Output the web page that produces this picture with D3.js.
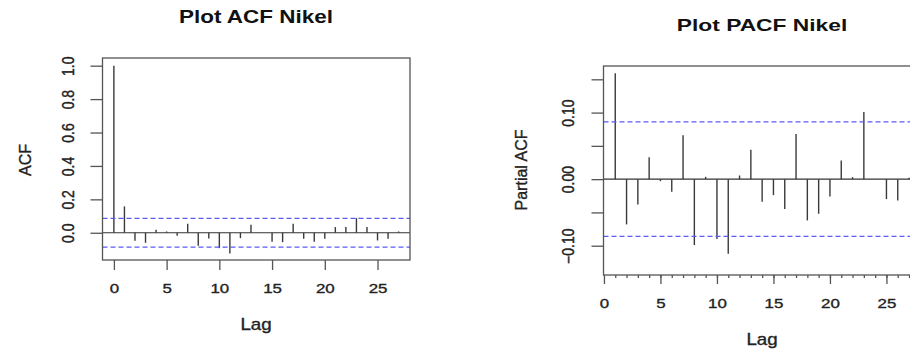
<!DOCTYPE html>
<html>
<head>
<meta charset="utf-8">
<script src="https://cdn.jsdelivr.net/npm/d3@7"></script>
<style>
  html, body { margin: 0; padding: 0; background: #fff; }
  svg text { font-family: "Liberation Sans", Arial, sans-serif; fill: #222; stroke: #222; stroke-width: 0.35px; }
</style>
</head>
<body>
<div id="chart"></div>
<script>
// lags and correlation values
var acfLags = [0, 1, 2, 3, 4, 5, 6, 7, 8, 9, 10, 11, 12, 13, 14, 15, 16, 17, 18, 19, 20, 21, 22, 23, 24, 25, 26, 27];
var acfValues = [1.0, 0.158, -0.048, -0.060, 0.018, 0.008, -0.018, 0.054, -0.078, -0.034, -0.092, -0.124, -0.032, 0.048, 0.000,
                 -0.054, -0.056, 0.054, -0.036, -0.054, -0.036, 0.034, 0.034, 0.088, 0.034, -0.046, -0.036, 0.008];

var pacfLags = [1, 2, 3, 4, 5, 6, 7, 8, 9, 10, 11, 12, 13, 14, 15, 16, 17, 18, 19, 20, 21, 22, 23, 24, 25, 26, 27];
var pacfValues = [0.159, -0.068, -0.038, 0.033, -0.003, -0.019, 0.066, -0.099, 0.0035, -0.090, -0.112, 0.0055, 0.044, -0.034,
                  -0.024, -0.045, 0.068, -0.062, -0.052, -0.026, 0.028, 0.003, 0.101, 0.000, -0.030, -0.032, 0.002];

// 95% bound (both plots use the same series length)
var ciBound = 0.086;

var lagTicks = [0, 5, 10, 15, 20, 25];
var acfYTicks = [0.0, 0.2, 0.4, 0.6, 0.8, 1.0];
var pacfYTicks = [-0.10, -0.05, 0.00, 0.05, 0.10, 0.15];
var pacfYLabels = [-0.10, 0.00, 0.10];

var W = 910, H = 349;
var svg = d3.select('#chart').append('svg').attr('width', W).attr('height', H);

function drawPanel(opt) {
    var g = svg.append('g');
    var x = d3.scaleLinear().domain(opt.xDomain).range([opt.left, opt.right]);
    var y = d3.scaleLinear().domain(opt.yDomain).range([opt.bottom, opt.top]);

    // title (the source picture is stretched sideways, so stretch text too)
    g.append('text')
      .attr('transform', 'translate(' + opt.titleX + ',' + opt.titleY + ') scale(' + opt.titleStretch + ',1)')
      .attr('text-anchor', 'middle')
      .attr('font-size', opt.titleSize).attr('font-weight', 'bold')
      .style('fill', '#111').style('stroke', 'none')
      .text(opt.title);

    // zero line
    g.append('line')
      .attr('x1', opt.left).attr('x2', opt.right)
      .attr('y1', y(0)).attr('y2', y(0))
      .attr('stroke', '#333').attr('stroke-width', 1.2);

    // spikes
    g.selectAll('line.spike')
      .data(opt.lags).enter().append('line')
      .attr('class', 'spike')
      .attr('x1', function(d) { return x(d); })
      .attr('x2', function(d) { return x(d); })
      .attr('y1', y(0))
      .attr('y2', function(d, i) { return y(opt.values[i]); })
      .attr('stroke', '#3a3a3a').attr('stroke-width', 1.4);

    // confidence bounds
    g.selectAll('line.ci')
      .data([ciBound, -ciBound]).enter().append('line')
      .attr('class', 'ci')
      .attr('x1', opt.left).attr('x2', opt.right)
      .attr('y1', function(d) { return y(d); })
      .attr('y2', function(d) { return y(d); })
      .attr('stroke', '#5b5bf5').attr('stroke-width', 1.3)
      .attr('stroke-dasharray', '5,3');

    // box
    g.append('rect')
      .attr('x', opt.left).attr('y', opt.top)
      .attr('width', opt.right - opt.left).attr('height', opt.bottom - opt.top)
      .attr('fill', 'none').attr('stroke', '#555').attr('stroke-width', 1.3);

    // x axis
    if (opt.minorTicks) {
        var gm = g.append('g')
          .attr('transform', 'translate(0,' + opt.bottom + ')')
          .call(d3.axisBottom(x).tickValues(opt.minorTicks).tickSize(3).tickFormat(''));
        gm.select('.domain').remove();
        gm.selectAll('.tick line').attr('stroke', '#555').attr('stroke-width', 1.3);
    }
    var gx = g.append('g')
      .attr('transform', 'translate(0,' + opt.bottom + ')')
      .call(d3.axisBottom(x).tickValues(lagTicks).tickSize(opt.xTickLen).tickPadding(opt.xTickPad));
    gx.select('.domain').remove();
    gx.selectAll('.tick line').attr('stroke', '#555').attr('stroke-width', 1.3);
    gx.selectAll('.tick text')
      .attr('font-size', 13.5).attr('font-family', null)
      .attr('transform', 'scale(1.25,1)');

    g.append('text')
      .attr('transform', 'translate(' + opt.xLabelX + ',' + opt.xLabelY + ') scale(1.17,1)')
      .attr('text-anchor', 'middle').attr('font-size', 16)
      .text('Lag');

    // y axis with rotated labels
    var gy = g.append('g')
      .attr('transform', 'translate(' + opt.left + ',0)')
      .call(d3.axisLeft(y).tickValues(opt.yTicks).tickSize(12)
        .tickFormat(function(d) {
            return opt.yLabels.some(function(v) { return Math.abs(v - d) < 1e-9; }) ? d3.format(opt.yFormat)(d) : '';
        }));
    gy.select('.domain').remove();
    gy.selectAll('.tick line').attr('stroke', '#555').attr('stroke-width', 1.3);
    gy.selectAll('.tick text')
      .attr('x', null).attr('dy', null)
      .attr('text-anchor', 'middle').attr('font-family', null)
      .attr('font-size', 14)
      .attr('transform', 'translate(' + opt.yLabelOffset + ',0) rotate(-90) scale(1,1.15)');

    g.append('text')
      .attr('transform', 'translate(' + opt.yTitleX + ',' + opt.yTitleY + ') rotate(-90)')
      .attr('text-anchor', 'middle').attr('font-size', 16)
      .text(opt.yTitle);
}

drawPanel({
    title: 'Plot ACF Nikel', titleX: 256, titleY: 23.3, titleSize: 17.7, titleStretch: 1.27,
    lags: acfLags, values: acfValues,
    xDomain: [-1.08, 28.08], yDomain: [-0.163, 1.046],
    left: 102.5, right: 410, top: 58, bottom: 260,
    xTickLen: 10, xTickPad: 13, xLabelX: 256, xLabelY: 330,
    yTicks: acfYTicks, yLabels: acfYTicks, yFormat: '.1f', yLabelOffset: -29,
    yTitle: 'ACF', yTitleX: 31, yTitleY: 160
});

drawPanel({
    title: 'Plot PACF Nikel', titleX: 762, titleY: 31.3, titleSize: 16.4, titleStretch: 1.39,
    lags: pacfLags, values: pacfValues,
    xDomain: [-0.04, 28.04], yDomain: [-0.144, 0.170],
    left: 603.5, right: 920.8, top: 66, bottom: 275,
    minorTicks: pacfLags, xTickLen: 9, xTickPad: 14, xLabelX: 762, xLabelY: 345,
    yTicks: pacfYTicks, yLabels: pacfYLabels, yFormat: '.2f', yLabelOffset: -30,
    yTitle: 'Partial ACF', yTitleX: 527, yTitleY: 170
});
</script>
</body>
</html>
